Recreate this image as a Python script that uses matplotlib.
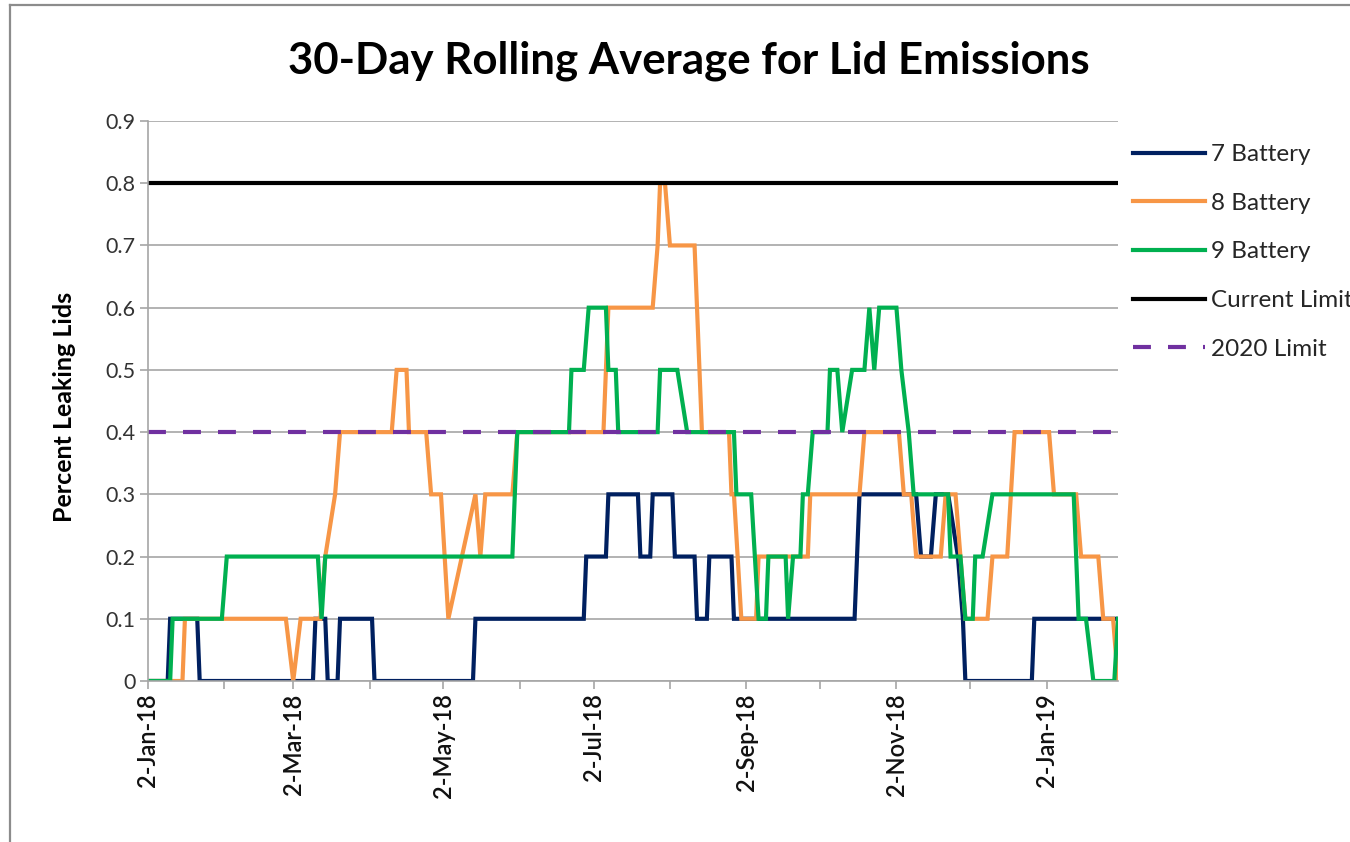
import numpy as np
import matplotlib
matplotlib.use("Agg")
import matplotlib.pyplot as plt
import matplotlib.dates as mdates
from matplotlib.lines import Line2D
import datetime as dt

# ---------------- data ----------------
start_date = dt.date(2018, 1, 2)
end_day = 394

# 7 Battery (day offset from 2-Jan-18, value)
days_7 = [0, 8, 9, 20, 21, 67, 68, 72, 73, 77, 78, 91, 92, 132, 133, 177, 178, 186, 187,
          199, 200, 204, 205, 213, 214, 222, 223, 227, 228, 237, 238, 287, 288, 289, 312,
          314, 318, 320, 325, 329, 331, 332, 359, 360, 394]
vals_7 = [0, 0, .1, .1, 0, 0, .1, .1, 0, 0, .1, .1, 0, 0, .1, .1, .2, .2, .3,
          .3, .2, .2, .3, .3, .2, .2, .1, .1, .2, .2, .1, .1, .2, .3, .3,
          .2, .2, .3, .3, .2, .1, 0, 0, .1, .1]

# 8 Battery
days_8 = [0, 14, 15, 56, 59, 62, 70, 72, 76, 78, 99, 101, 105, 106, 113, 115, 119, 122,
          133, 135, 137, 148, 150, 185, 187, 205, 207, 208, 210, 212, 222, 225, 236, 237,
          238, 241, 247, 248, 268, 269, 289, 291, 305, 307, 310, 312, 322, 324, 328, 332,
          341, 343, 349, 352, 366, 368, 377, 379, 386, 388, 392, 394]
vals_8 = [0, 0, .1, .1, 0, .1, .1, .2, .3, .4, .4, .5, .5, .4, .4, .3, .3, .1,
          .3, .2, .3, .3, .4, .4, .6, .6, .7, .8, .8, .7, .7, .4, .4, .3,
          .3, .1, .1, .2, .2, .3, .3, .4, .4, .3, .3, .2, .2, .3, .3, .1,
          .1, .2, .2, .4, .4, .3, .3, .2, .2, .1, .1, 0]

# 9 Battery
days_9 = [0, 9, 10, 30, 32, 69, 70.5, 72, 148, 150, 171, 172, 177, 179, 186, 187, 190, 191,
          207, 208, 215, 219, 238, 239, 245, 248, 251, 252, 259, 260, 262, 265, 266, 268,
          270, 276, 277, 280, 282, 286, 291, 293, 295, 297, 304, 306, 309, 311, 325, 326,
          330, 332, 335, 336, 339, 343, 376, 378, 381, 384, 392.5, 394]
vals_9 = [0, 0, .1, .1, .2, .2, .1, .2, .2, .4, .4, .5, .5, .6, .6, .5, .5, .4,
          .4, .5, .5, .4, .4, .3, .3, .1, .1, .2, .2, .1, .2, .2, .3, .3,
          .4, .4, .5, .5, .4, .5, .5, .6, .5, .6, .6, .5, .4, .3, .3, .2,
          .2, .1, .1, .2, .2, .3, .3, .1, .1, 0, 0, .1]

current_limit = 0.8
limit_2020 = 0.4

series_names = ["7 Battery", "8 Battery", "9 Battery", "Current Limit", "2020 Limit"]
series_colors = ["#002060", "#F79646", "#00B050", "#000000", "#7030A0"]

y_ticks = [0, 0.1, 0.2, 0.3, 0.4, 0.5, 0.6, 0.7, 0.8, 0.9]
y_tick_labels = ["0", "0.1", "0.2", "0.3", "0.4", "0.5", "0.6", "0.7", "0.8", "0.9"]

# ---------------- plot ----------------
FONT = ["Lato", "DejaVu Sans"]
plt.rcParams["font.family"] = FONT

base = mdates.date2num(start_date)


def to_x(days):
    return base + np.asarray(days, dtype=float)


W, H = 1350, 842
fig = plt.figure(figsize=(W / 100, H / 100), dpi=100)
ax = fig.add_axes([148 / W, 1 - 681 / H, (1118 - 148) / W, (681 - 121) / H])

lw = 3.0
ax.plot(to_x(days_7), vals_7, color=series_colors[0], lw=lw, label=series_names[0],
        solid_joinstyle="miter")
ax.plot(to_x(days_8), vals_8, color=series_colors[1], lw=lw, label=series_names[1],
        solid_joinstyle="miter")
ax.plot(to_x(days_9), vals_9, color=series_colors[2], lw=lw, label=series_names[2],
        solid_joinstyle="miter")
ax.plot(to_x([0, end_day]), [current_limit, current_limit], color=series_colors[3],
        lw=lw, label=series_names[3])
ax.plot(to_x([0, end_day]), [limit_2020, limit_2020], color=series_colors[4],
        lw=lw, ls=(0, (4.3, 4.1)), label=series_names[4])

ax.set_xlim(to_x([0, end_day]))
ax.set_ylim(0, 0.9)

grid_c = "#A6A6A6"
ax.set_yticks(y_ticks)
ax.set_yticklabels(y_tick_labels)
ax.yaxis.grid(True, color=grid_c, lw=1.2)
ax.set_axisbelow(True)
for s in ["top", "right"]:
    ax.spines[s].set_visible(False)
for s in ["left", "bottom"]:
    ax.spines[s].set_color(grid_c)
    ax.spines[s].set_linewidth(1.2)

ax.xaxis.set_major_locator(mdates.MonthLocator(bymonth=[1, 3, 5, 7, 9, 11], bymonthday=2))
ax.xaxis.set_minor_locator(mdates.MonthLocator(bymonth=[2, 4, 6, 8, 10, 12], bymonthday=2))
ax.xaxis.set_major_formatter(mdates.DateFormatter("%-d-%b-%y"))

ax.tick_params(axis="y", which="both", length=6, width=1.2, color=grid_c,
               labelsize=15.5, labelcolor="#333333", pad=3)
ax.tick_params(axis="x", which="both", length=6, width=1.2, color=grid_c,
               labelsize=17, labelcolor="#111111", pad=3)
for lab in ax.get_xticklabels():
    lab.set_rotation(90)
    lab.set_fontweight("semibold")

ax.set_ylabel("Percent Leaking Lids", fontsize=18, fontweight="bold")
ax.yaxis.set_label_coords((76 - 148) / 970, 0.49)

fig.text(0.51, 1 - 61 / H, "30-Day Rolling Average for Lid Emissions",
         ha="center", va="center", fontsize=31.5, fontweight="bold", color="#000000")

leg = ax.legend(loc="upper left", bbox_to_anchor=(1133 / W, 1 - 144 / H),
                bbox_transform=fig.transFigure, frameon=False, fontsize=17.5,
                handlelength=2.96, handletextpad=0.25, labelspacing=1.14,
                borderpad=0, borderaxespad=0)
for t in leg.get_texts():
    t.set_color("#262626")

# outer chart frame
frame_c = "#8C8C8C"
fig.add_artist(Line2D([10 / W, 10 / W], [0, 1 - 5 / H], color=frame_c, lw=1.6,
                      transform=fig.transFigure))
fig.add_artist(Line2D([10 / W, 1], [1 - 5 / H, 1 - 5 / H], color=frame_c, lw=1.6,
                      transform=fig.transFigure))

fig.savefig("out.png", dpi=100, facecolor="white")
